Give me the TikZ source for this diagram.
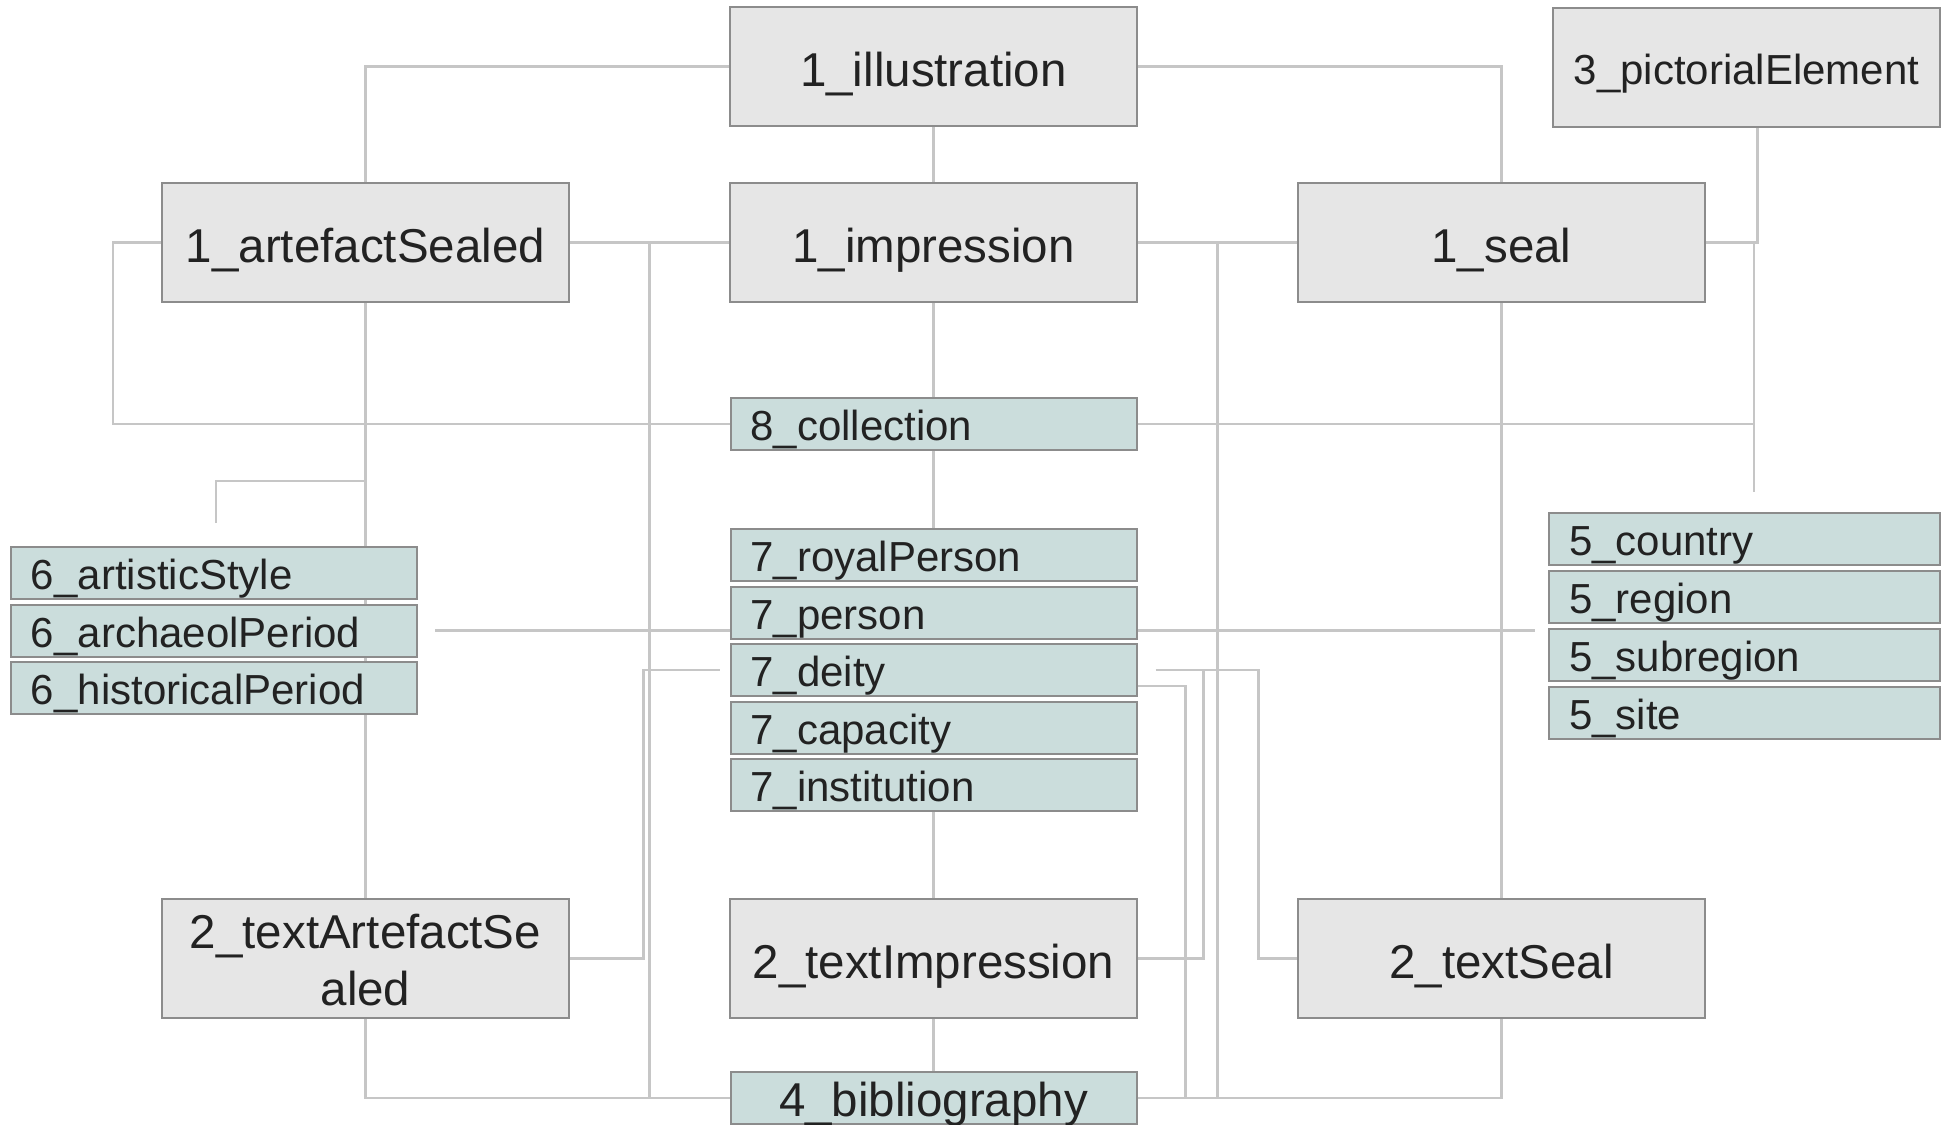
\documentclass[tikz,border=0pt]{standalone}
\usepackage{fontspec}
\setmainfont{Liberation Sans}
\usepackage{tikz}
\usetikzlibrary{positioning,calc,backgrounds}

\definecolor{boxgray}{HTML}{E6E6E6}
\definecolor{boxteal}{HTML}{CBDDDC}
\definecolor{edgegray}{HTML}{8C8C8C}
\definecolor{linkgray}{HTML}{C6C6C6}
\definecolor{inkgray}{HTML}{222222}

\begin{document}
\begin{tikzpicture}[
    x=0.5pt, y=-0.5pt,
    bigfont/.style={font=\fontsize{23.75}{28.5}\selectfont},
    smallfont/.style={font=\fontsize{21}{25}\selectfont},
    bigbox/.style={rectangle, draw=edgegray, line width=1pt, fill=boxgray, text=inkgray, minimum width=203.5pt, minimum height=59.5pt, inner sep=0pt, align=center, bigfont, text height=19.5pt, text depth=0pt},
    smallbox/.style={rectangle, draw=edgegray, line width=1pt, fill=boxteal, text=inkgray, text width=183pt, inner xsep=10pt, inner ysep=0pt, minimum height=26pt, align=left, smallfont, text height=16.5pt, text depth=0pt},
    link/.style={draw=linkgray, line width=1.2pt}
]
    \useasboundingbox (0,0) rectangle (1941,1124);

    % Top row
    \node[bigbox, anchor=north west] (illustration) at (729,6) {1\_illustration};
    \node[bigbox, anchor=north west, minimum width=193.5pt, smallfont, text height=17pt] (pictorialElement) at (1552,7) {3\_pictorialElement};

    % Objects
    \node[bigbox, below=27.5pt of illustration] (impression) {1\_impression};
    \node[bigbox, left=79.5pt of impression] (artefactSealed) {1\_artefactSealed};
    \node[bigbox, right=79.5pt of impression] (seal) {1\_seal};

    % Middle column
    \node[smallbox, below=47pt of impression] (collection) {8\_collection};
    \node[smallbox, below=38.5pt of collection] (royalPerson) {7\_royalPerson};
    \foreach \name/\label [remember=\name as \prev (initially royalPerson)] in {person/7\_person, deity/7\_deity, capacity/7\_capacity, institution/7\_institution}
        \node[smallbox, below=1.75pt of \prev] (\name) {\label};

    % Periods
    \node[smallbox, anchor=north west] (artisticStyle) at (10,546) {6\_artisticStyle};
    \node[smallbox, below=1.75pt of artisticStyle] (archaeolPeriod) {6\_archaeolPeriod};
    \node[smallbox, below=1.75pt of archaeolPeriod] (historicalPeriod) {6\_historicalPeriod};

    % Places
    \node[smallbox, anchor=north west, text width=175.5pt] (country) at (1548,512) {5\_country};
    \foreach \name/\label [remember=\name as \prev (initially country)] in {region/5\_region, subregion/5\_subregion, site/5\_site}
        \node[smallbox, text width=175.5pt, below=2pt of \prev] (\name) {\label};

    % Texts
    \node[bigbox, below=43pt of institution] (textImpression) {2\_textImpression};
    \node[bigbox, left=79.5pt of textImpression, text height=46.5pt] (textArtefactSealed) {2\_textArtefactSe\\aled};
    \node[bigbox, right=79.5pt of textImpression] (textSeal) {2\_textSeal};
    \node[smallbox, below=26pt of textImpression, align=center, bigfont, text height=18pt] (bibliography) {4\_bibliography};

    % Free ends
    \coordinate (pictStub) at (1754,492);
    \coordinate (styleStub) at (216,523);
    \coordinate (leftJoin) at ($(artefactSealed.east)!0.5!(impression.west)$);
    \coordinate (rightJoin) at ($(impression.east)!0.5!(seal.west)$);

    \begin{scope}[on background layer]
        % spine
        \foreach \a/\b in {illustration/impression, impression/collection, collection/royalPerson, institution/textImpression, textImpression/bibliography}
            \draw[link] (\a.south) -- (\b.north);
        \draw[link] (illustration.west) -| (artefactSealed.north);
        \draw[link] (illustration.east) -| (seal.north);
        \draw[link] (artefactSealed.east) -- (impression.west);
        \draw[link] (impression.east) -- (seal.west);
        \draw[link] (seal.east) -| ([xshift=5.5pt]pictorialElement.south);
        \draw[link] (artefactSealed.south) -- (textArtefactSealed.north);
        \draw[link] (seal.south) -- (textSeal.north);

        % collection
        \draw[link] (artefactSealed.west) -- ++(-48,0) |- (collection.west);
        \draw[link] (collection.east) -| (pictStub);
        \draw[link] (seal.east -| pictStub) -- (pictStub);
        \draw[link] (styleStub) -- ++(0,-42) -| (artefactSealed.south);

        % periods to places
        \draw[link] ([xshift=8.5pt]archaeolPeriod.east) -- ([xshift=-6.5pt]country.west |- archaeolPeriod.east);

        % deity
        \draw[link] ([xshift=-5pt]deity.west) -- ++(-76,0) |- (textArtefactSealed.east);
        \draw[link] ([xshift=9pt]deity.east) -- ++(103,0) |- (textSeal.west);
        \draw[link] (textImpression.east) -| ([xshift=33pt]deity.east);
        \draw[link] ([yshift=-8pt]deity.east) -- ++(48,0) |- (bibliography.east);

        % bibliography
        \draw[link] (leftJoin) |- (bibliography.west);
        \draw[link] (rightJoin) |- (bibliography.east);
        \draw[link] (textArtefactSealed.south) |- (bibliography.west);
        \draw[link] (bibliography.east) -| (textSeal.south);
    \end{scope}
\end{tikzpicture}
\end{document}
